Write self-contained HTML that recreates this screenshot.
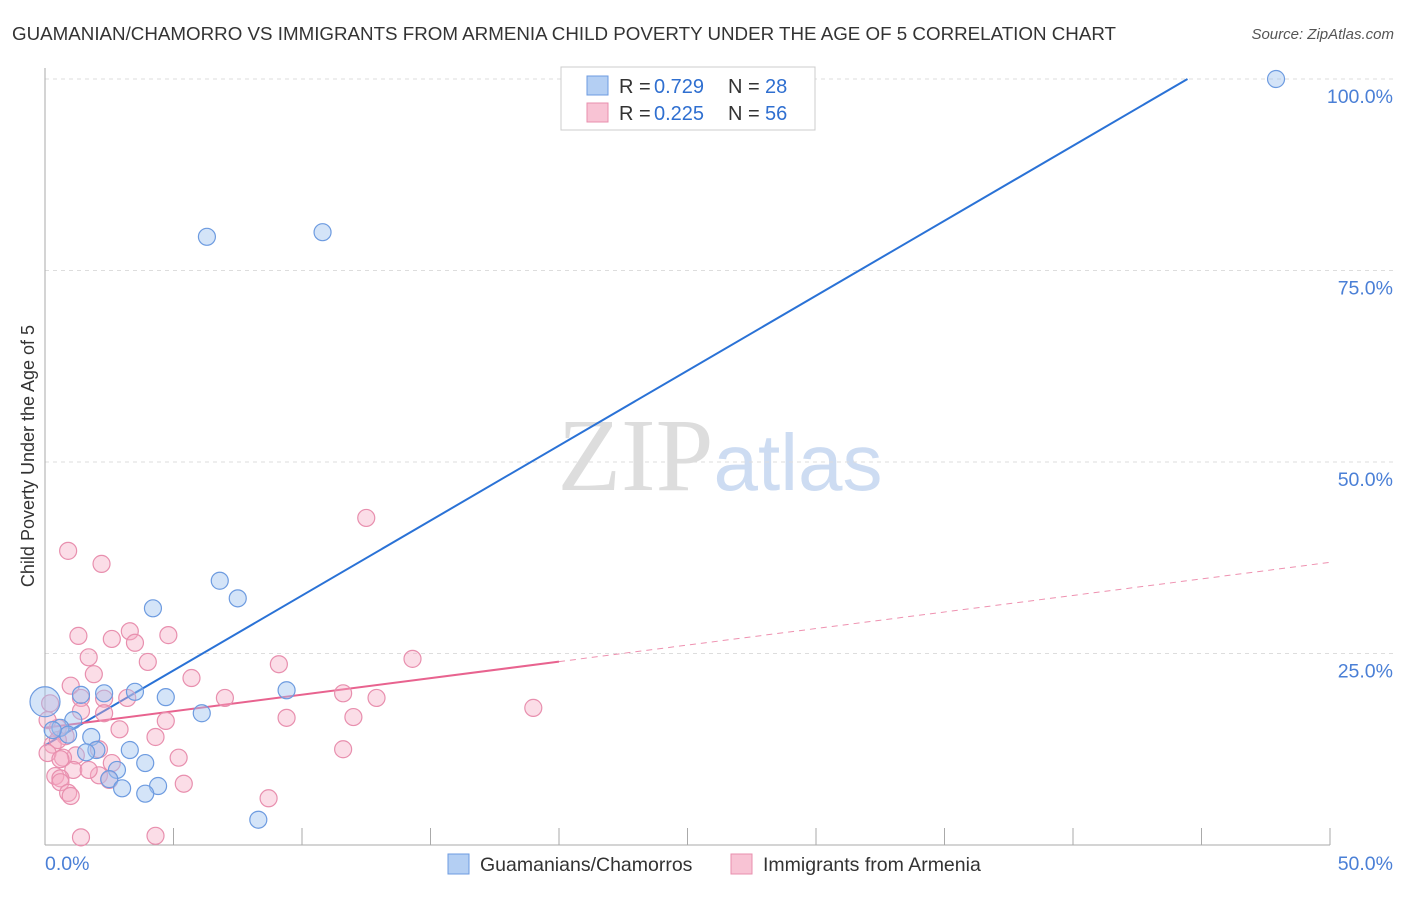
<!DOCTYPE html>
<html><head><meta charset="utf-8"><style>
body{margin:0;background:#fff;width:1406px;height:892px;overflow:hidden;font-family:"Liberation Sans",sans-serif}
</style></head><body>
<svg id="chart" width="1406" height="892" xmlns="http://www.w3.org/2000/svg">
<text x="12" y="40" font-size="18" fill="#333" textLength="1104" lengthAdjust="spacingAndGlyphs">GUAMANIAN/CHAMORRO VS IMMIGRANTS FROM ARMENIA CHILD POVERTY UNDER THE AGE OF 5 CORRELATION CHART</text>
<text x="1394" y="39" font-size="15" fill="#555" text-anchor="end" font-style="italic">Source: ZipAtlas.com</text>
<text x="720" y="490" text-anchor="middle" font-size="104"><tspan font-family="Liberation Serif" fill="#ddd">ZIP</tspan><tspan fill="#cddcf2" font-size="80">atlas</tspan></text>
<text transform="translate(34,456) rotate(-90)" text-anchor="middle" font-size="18" fill="#333">Child Poverty Under the Age of 5</text>
<g id="grid"></g><g id="axes"></g><g id="lines"></g><g id="pts"></g>
<g>
<rect x="561" y="67" width="254" height="63" fill="#fff" stroke="#ccc"/>
<rect x="587" y="76" width="21" height="19" fill="#b4cff3" stroke="#6d9be0"/>
<text x="619" y="93" font-size="20" fill="#333">R = </text><text x="654" y="93" font-size="20" fill="#2f6fd0">0.729</text>
<text x="728" y="93" font-size="20" fill="#333">N = </text><text x="765" y="93" font-size="20" fill="#2f6fd0">28</text>
<rect x="587" y="103" width="21" height="19" fill="#f8c3d4" stroke="#e88fae"/>
<text x="619" y="120" font-size="20" fill="#333">R = </text><text x="654" y="120" font-size="20" fill="#2f6fd0">0.225</text>
<text x="728" y="120" font-size="20" fill="#333">N = </text><text x="765" y="120" font-size="20" fill="#2f6fd0">56</text>
</g>
<g>
<rect x="448" y="854" width="21" height="20" fill="#b4cff3" stroke="#6d9be0"/>
<text x="480" y="871" font-size="19.5" fill="#333">Guamanians/Chamorros</text>
<rect x="731" y="854" width="21" height="20" fill="#f8c3d4" stroke="#e88fae"/>
<text x="763" y="871" font-size="19.5" fill="#333">Immigrants from Armenia</text>
</g>
</svg>
<script>
const blueX=[47.9,6.3,10.8,6.8,7.5,4.2,9.4,3.5,4.7,1.4,2.3,6.1,1.1,0.6,0.9,1.8,2.0,1.6,3.3,3.9,2.8,2.5,3.0,4.4,3.9,8.3,0.3,0.0];
const blueY=[100,79.4,80.0,34.5,32.2,30.9,20.2,20.0,19.3,19.6,19.8,17.2,16.3,15.3,14.4,14.1,12.4,12.1,12.4,10.7,9.8,8.6,7.4,7.7,6.7,3.3,15.0,18.7];
const pinkX=[0.9,2.2,12.5,14.3,19.0,1.3,3.3,4.8,2.6,3.5,1.7,4.0,9.1,1.9,5.7,1.0,11.6,12.9,7.0,2.3,1.4,0.2,1.4,2.3,9.4,12.0,4.7,0.5,2.9,0.8,4.3,0.3,0.5,11.6,2.1,1.2,0.1,0.7,5.2,2.6,1.1,2.1,0.4,0.6,0.6,5.4,0.9,1.0,8.7,1.4,4.3,3.2,1.7,2.5,0.1,0.6];
const pinkY=[38.4,36.7,42.7,24.3,17.9,27.3,27.9,27.4,26.9,26.4,24.5,23.9,23.6,22.3,21.8,20.8,19.8,19.2,19.2,19.1,19.2,18.5,17.5,17.2,16.6,16.7,16.2,15.3,15.1,14.2,14.1,13.1,13.7,12.5,12.5,11.7,12.0,11.4,11.4,10.7,9.8,9.1,9.0,8.7,8.2,8.0,6.8,6.4,6.1,1.0,1.2,19.2,9.8,8.5,16.3,11.2];
const blueIntercept=13.0, blueSlope=1.957;
const pinkIntercept=15.3, pinkSlope=0.432, pinkSolidEnd=20;
const yTicks=[25,50,75,100];
const NS="http://www.w3.org/2000/svg";
const X=v=>45+v*25.7, Y=v=>845-v*7.66;
function mk(tag,attrs,parent){const e=document.createElementNS(NS,tag);for(const k in attrs)e.setAttribute(k,attrs[k]);document.getElementById(parent).appendChild(e);return e;}
yTicks.forEach(t=>{
 const l=mk('line',{x1:45,x2:1393,y1:Y(t),y2:Y(t),stroke:'#ddd','stroke-dasharray':'4,4'},'grid');
 
 
 const tx=mk('text',{x:1393,y:Y(t)+24,'text-anchor':'end','font-size':19.5,fill:'#4a7fd6'},'grid');tx.textContent=t.toFixed(1)+'%';
 
 
});
mk('line',{x1:45,x2:45,y1:68,y2:845,stroke:'#aaa'},'axes');
mk('line',{x1:45,x2:1330,y1:845,y2:845,stroke:'#aaa'},'axes');
for(let i=1;i<=10;i++){mk('line',{x1:X(i*5),x2:X(i*5),y1:828,y2:845,stroke:'#aaa'},'axes');}
let a=mk('text',{x:45,y:870,'font-size':19.5,fill:'#4a7fd6'},'axes');a.textContent='0.0%';


a=mk('text',{x:1393,y:870,'font-size':19.5,fill:'#4a7fd6','text-anchor':'end'},'axes');a.textContent='50.0%';


const xEnd=(100-blueIntercept)/blueSlope;
let bl=mk('line',{x1:X(0),y1:Y(blueIntercept),x2:X(xEnd),y2:Y(100),stroke:'#2a72d6','stroke-width':2},'lines');


let pl=mk('line',{x1:X(0),y1:Y(pinkIntercept),x2:X(pinkSolidEnd),y2:Y(pinkIntercept+pinkSlope*pinkSolidEnd),stroke:'#e8638f','stroke-width':2},'lines');


let pd=mk('line',{x1:X(pinkSolidEnd),y1:Y(pinkIntercept+pinkSlope*pinkSolidEnd),x2:X(50),y2:Y(pinkIntercept+pinkSlope*50),stroke:'#e8638f','stroke-width':1,'stroke-dasharray':'6,5','opacity':0.7},'lines');


pinkX.forEach((x,i)=>{const c=mk('circle',{cx:X(x),cy:Y(pinkY[i]),r:8.5,fill:'rgba(245,170,196,0.4)',stroke:'#e88fae','stroke-width':1.2},'pts');
 
 });
blueX.forEach((x,i)=>{const c=mk('circle',{cx:X(x),cy:Y(blueY[i]),r:i==27?15:8.5,fill:'rgba(160,195,240,0.45)',stroke:'#6d9be0','stroke-width':1.2},'pts');
 
 });
</script>
</body></html>
